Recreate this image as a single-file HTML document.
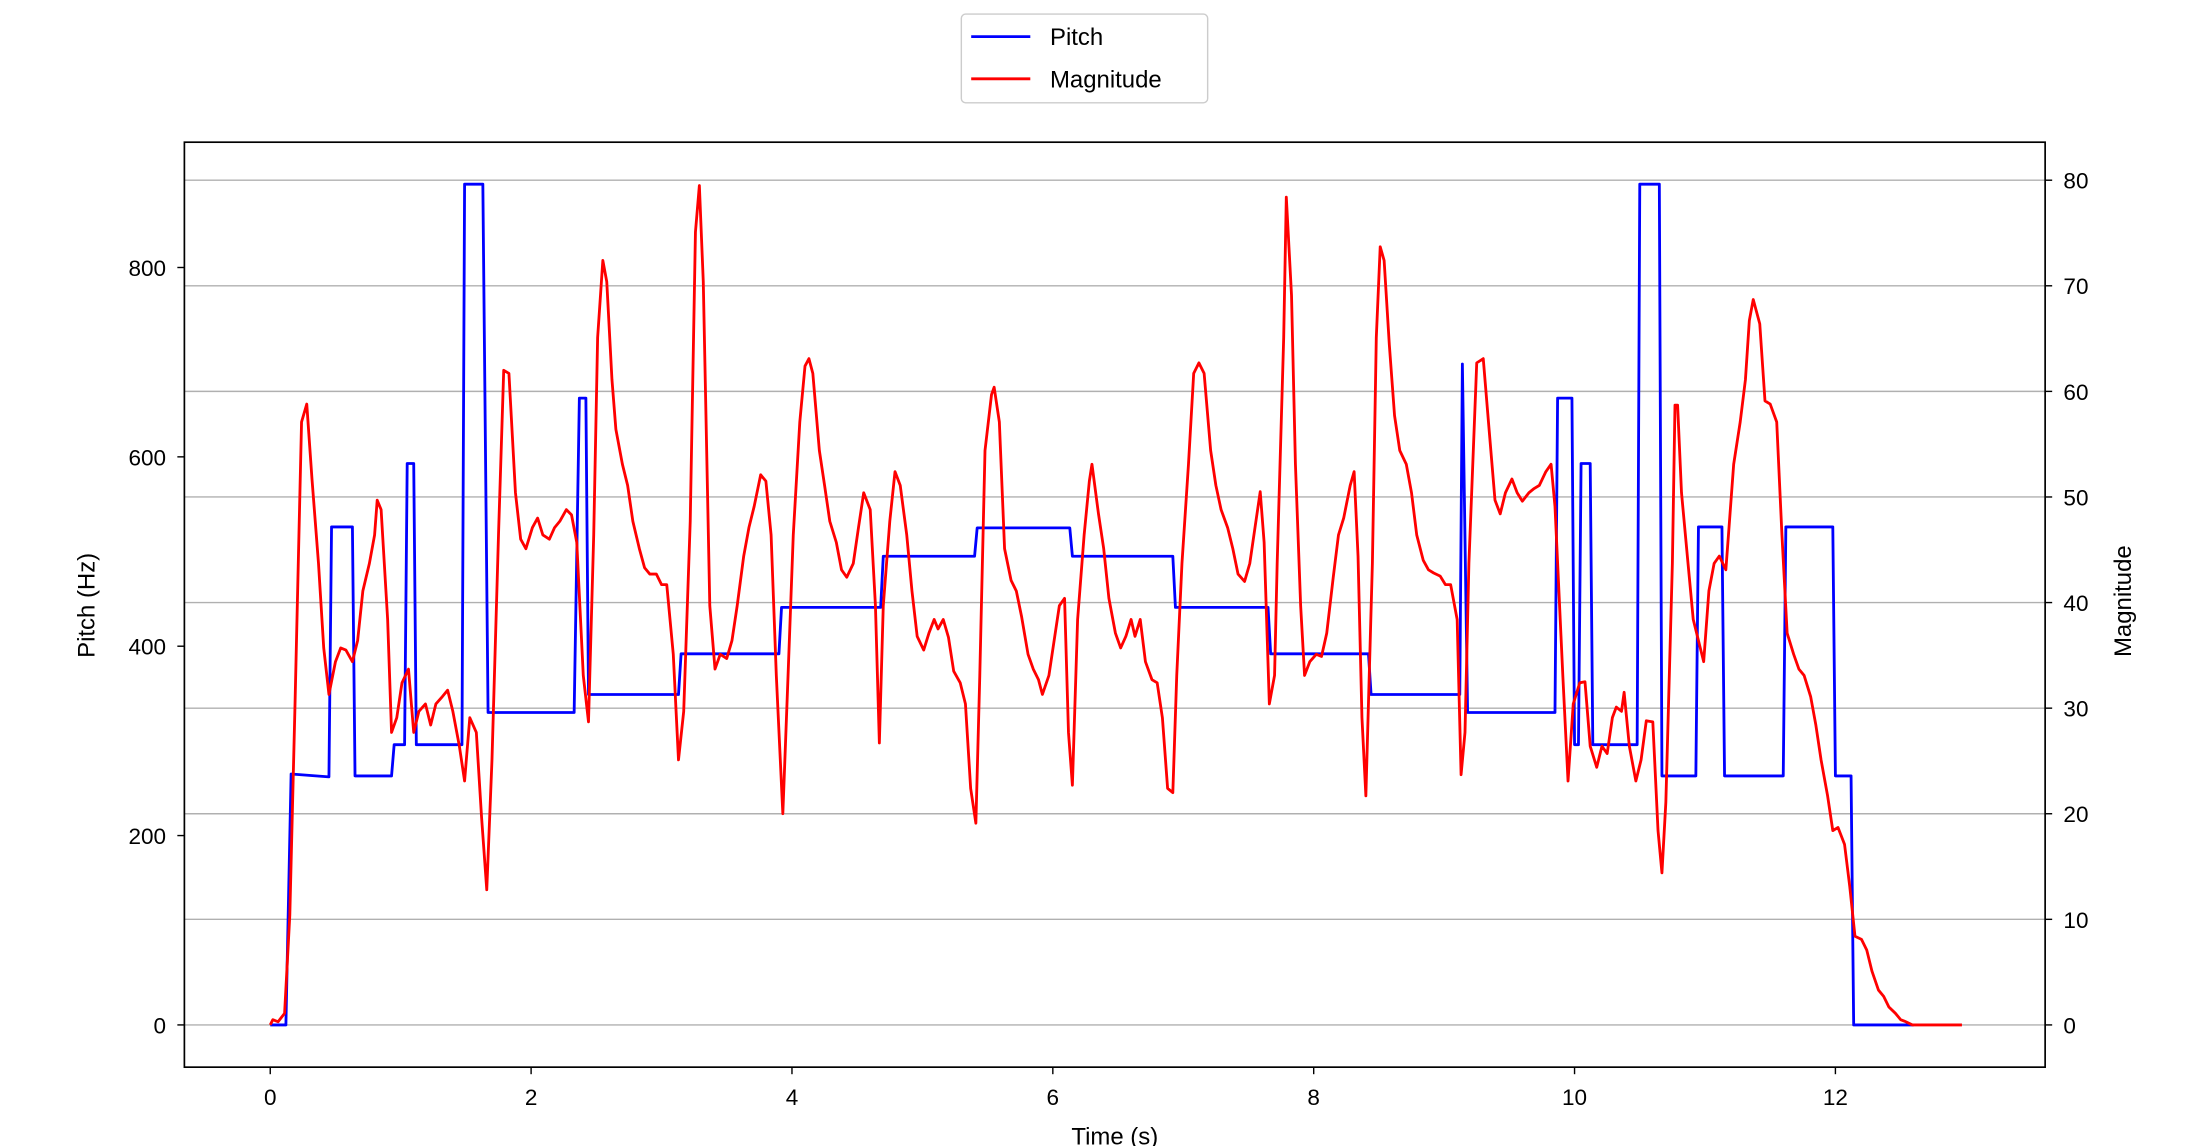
<!DOCTYPE html>
<html><head><meta charset="utf-8"><style>
html,body{margin:0;padding:0;background:#fff}
svg{display:block}
text{font-family:"Liberation Sans","DejaVu Sans",sans-serif;fill:#000}
</style></head><body>
<svg id="chart" width="2207" height="1146" viewBox="0 0 1568 814" preserveAspectRatio="none" xmlns="http://www.w3.org/2000/svg">
<g id="grid"></g>
<g id="series"></g>
<rect x="131" y="101" width="1322" height="657" fill="none" stroke="#000" stroke-width="1.2"/>
<g id="axes"></g>
<text x="792" y="813" font-size="17" text-anchor="middle">Time (s)</text>
<text transform="translate(67,430) rotate(-90)" font-size="17" text-anchor="middle">Pitch (Hz)</text>
<text transform="translate(1514,427) rotate(-90)" font-size="17" text-anchor="middle">Magnitude</text>
<g>
<rect x="683" y="10" width="175" height="63" rx="3" fill="#fff" stroke="#ccc" stroke-width="1"/>
<line x1="690" y1="26" x2="732" y2="26" stroke="#0000ff" stroke-width="2"/>
<text x="746" y="32" font-size="17">Pitch</text>
<line x1="690" y1="56" x2="732" y2="56" stroke="#ff0000" stroke-width="2"/>
<text x="746" y="62" font-size="17">Magnitude</text>
</g>
</svg>
<script>
const xTicks=[0,2,4,6,8,10,12];
const pitchTicks=[0,200,400,600,800];
const magTicks=[0,10,20,30,40,50,60,70,80];
const pitchT=[0,0.12,0.16,0.45,0.47,0.63,0.65,0.93,0.95,1.03,1.05,1.10,1.12,1.47,1.49,1.63,1.67,2.33,2.37,2.42,2.44,3.13,3.15,3.90,3.92,4.68,4.70,5.40,5.42,6.13,6.15,6.92,6.94,7.65,7.67,8.42,8.44,9.12,9.14,9.18,9.85,9.87,9.98,10.00,10.03,10.05,10.12,10.14,10.48,10.50,10.65,10.67,10.93,10.95,11.13,11.15,11.60,11.62,11.98,12.00,12.12,12.14,12.60];
const pitchV=[0,0,265,262,526,526,263,263,296,296,593,593,296,296,888,888,330,330,662,662,349,349,392,392,441,441,495,495,525,525,495,495,441,441,392,392,349,349,698,330,330,662,662,296,296,593,593,296,296,888,888,263,263,526,526,263,263,526,526,263,263,0,0];
const magT=[0,0.02,0.06,0.11,0.15,0.19,0.24,0.28,0.32,0.37,0.41,0.45,0.50,0.54,0.58,0.63,0.67,0.71,0.76,0.80,0.82,0.85,0.90,0.93,0.97,1.01,1.06,1.10,1.14,1.19,1.23,1.27,1.32,1.36,1.40,1.45,1.49,1.53,1.58,1.62,1.66,1.70,1.75,1.79,1.83,1.88,1.92,1.96,2.01,2.05,2.09,2.14,2.18,2.22,2.27,2.31,2.35,2.40,2.44,2.48,2.51,2.55,2.58,2.62,2.65,2.70,2.74,2.78,2.83,2.87,2.91,2.96,3.00,3.04,3.09,3.13,3.17,3.22,3.26,3.29,3.32,3.37,3.41,3.45,3.50,3.54,3.58,3.63,3.67,3.71,3.76,3.80,3.84,3.88,3.93,3.97,4.01,4.06,4.10,4.13,4.16,4.21,4.25,4.29,4.34,4.38,4.42,4.47,4.51,4.55,4.60,4.64,4.67,4.70,4.75,4.79,4.83,4.88,4.92,4.96,5.01,5.05,5.09,5.12,5.16,5.20,5.24,5.29,5.33,5.37,5.41,5.44,5.48,5.53,5.55,5.59,5.63,5.68,5.72,5.76,5.81,5.85,5.89,5.92,5.97,6.01,6.05,6.09,6.12,6.15,6.19,6.24,6.28,6.30,6.35,6.39,6.43,6.48,6.52,6.56,6.60,6.63,6.67,6.71,6.76,6.80,6.84,6.88,6.92,6.95,6.99,7.04,7.08,7.12,7.16,7.21,7.25,7.29,7.34,7.38,7.42,7.47,7.51,7.55,7.59,7.62,7.66,7.70,7.72,7.77,7.79,7.83,7.86,7.90,7.93,7.97,8.02,8.06,8.10,8.15,8.19,8.23,8.28,8.31,8.34,8.37,8.40,8.45,8.48,8.51,8.54,8.58,8.62,8.66,8.71,8.75,8.79,8.84,8.88,8.92,8.97,9.01,9.05,9.10,9.13,9.16,9.19,9.25,9.30,9.34,9.39,9.43,9.47,9.52,9.56,9.60,9.65,9.69,9.73,9.78,9.82,9.85,9.91,9.95,9.99,10.04,10.08,10.12,10.17,10.21,10.25,10.29,10.32,10.36,10.38,10.42,10.47,10.51,10.55,10.60,10.64,10.67,10.70,10.75,10.77,10.79,10.82,10.87,10.91,10.95,10.99,11.03,11.07,11.11,11.16,11.18,11.22,11.27,11.31,11.34,11.37,11.42,11.46,11.50,11.55,11.59,11.63,11.68,11.72,11.76,11.81,11.85,11.89,11.94,11.98,12.02,12.07,12.11,12.15,12.20,12.24,12.28,12.33,12.37,12.41,12.46,12.50,12.54,12.59,12.97];
const magV=[0,0.5,0.3,1.1,10.4,30.4,57.1,58.8,51.7,43.7,35.7,31.3,34.4,35.7,35.5,34.4,36.4,41.1,43.7,46.4,49.7,48.8,38.4,27.7,29.1,32.4,33.7,27.7,29.7,30.4,28.4,30.4,31.1,31.7,29.7,26.4,23.1,29.1,27.7,19.7,12.8,25.1,46.4,62.0,61.7,50.4,46.0,45.1,47.1,48.0,46.4,46.0,47.1,47.7,48.8,48.3,45.7,33.1,28.7,46.4,65.1,72.4,70.4,61.1,56.4,53.1,51.1,47.7,45.1,43.3,42.7,42.7,41.7,41.7,35.1,25.1,29.7,47.7,75.1,79.5,70.4,39.7,33.7,35.1,34.7,36.4,39.7,44.4,47.1,49.1,52.1,51.5,46.4,33.1,20.0,33.1,46.4,57.1,62.4,63.1,61.7,54.4,51.1,47.7,45.7,43.1,42.4,43.7,47.1,50.4,48.8,39.7,26.7,39.7,47.7,52.4,51.1,46.4,41.1,36.8,35.5,37.1,38.4,37.5,38.4,36.7,33.5,32.4,30.4,22.4,19.1,33.1,54.4,59.7,60.4,57.1,45.1,42.1,41.1,38.7,35.1,33.7,32.7,31.3,33.1,36.4,39.7,40.4,27.7,22.7,38.4,46.4,51.5,53.1,48.4,45.1,40.4,37.1,35.7,36.8,38.4,36.8,38.4,34.4,32.7,32.4,29.1,22.4,22.0,33.1,43.7,53.1,61.7,62.7,61.7,54.4,51.1,48.8,47.1,45.1,42.7,42.0,43.7,47.1,50.5,45.7,30.4,33.1,43.7,65.1,78.4,69.1,53.1,39.7,33.1,34.4,35.1,34.9,37.1,42.4,46.4,48.0,51.1,52.4,44.4,29.1,21.7,43.7,65.1,73.7,72.4,64.4,57.7,54.4,53.1,50.4,46.4,44.0,43.1,42.8,42.5,41.7,41.7,38.4,23.7,27.7,43.7,62.7,63.1,57.1,49.7,48.4,50.4,51.7,50.4,49.6,50.4,50.8,51.1,52.4,53.1,49.1,33.1,23.1,30.4,32.4,32.5,26.4,24.4,26.4,25.7,29.1,30.1,29.7,31.5,26.4,23.1,25.1,28.8,28.7,18.4,14.4,21.1,43.7,58.7,58.7,50.4,43.7,38.4,36.4,34.4,41.1,43.7,44.4,43.1,46.4,53.1,57.1,61.1,66.7,68.7,66.4,59.1,58.8,57.1,46.4,37.1,35.1,33.7,33.1,31.1,28.4,25.1,21.7,18.4,18.7,17.1,13.1,8.4,8.1,7.1,5.1,3.3,2.7,1.7,1.1,0.5,0.3,0,0];

const NS='http://www.w3.org/2000/svg';
const X=t=>192+t*(1304-192)/12;
const Y1=v=>728-v*(728-190)/800;
const Y2=v=>728-v*(728-128)/80;
function mk(tag,attrs,parent){const e=document.createElementNS(NS,tag);for(const k in attrs)e.setAttribute(k,attrs[k]);parent.appendChild(e);return e;}
const grid=document.getElementById('grid'),axes=document.getElementById('axes'),series=document.getElementById('series');
magTicks.forEach(v=>{
  const g=mk('line',{x1:131,x2:1453,y1:Y2(v),y2:Y2(v),stroke:'#b0b0b0','stroke-width':1},grid);
  
  
  const tk=mk('line',{x1:1453,x2:1458,y1:Y2(v),y2:Y2(v),stroke:'#000','stroke-width':1},axes);
  
  
  const tx=mk('text',{x:1466,y:Y2(v)+6,'font-size':16},axes);tx.textContent=v;
  
  
});
pitchTicks.forEach(v=>{
  const tk=mk('line',{x1:126,x2:131,y1:Y1(v),y2:Y1(v),stroke:'#000','stroke-width':1},axes);
  
  
  const tx=mk('text',{x:118,y:Y1(v)+6,'font-size':16,'text-anchor':'end'},axes);tx.textContent=v;
  
  
});
xTicks.forEach(v=>{
  const tk=mk('line',{x1:X(v),x2:X(v),y1:758,y2:763,stroke:'#000','stroke-width':1},axes);
  
  
  const tx=mk('text',{x:X(v),y:785,'font-size':16,'text-anchor':'middle'},axes);tx.textContent=v;
  
  
});
const pp=mk('polyline',{points:pitchT.map((t,i)=>X(t)+','+Y1(pitchV[i])).join(' '),fill:'none',stroke:'#0000ff','stroke-width':2,'stroke-linejoin':'round'},series);


const mp=mk('polyline',{points:magT.map((t,i)=>X(t)+','+Y2(magV[i])).join(' '),fill:'none',stroke:'#ff0000','stroke-width':2,'stroke-linejoin':'round'},series);


</script>
</body></html>
